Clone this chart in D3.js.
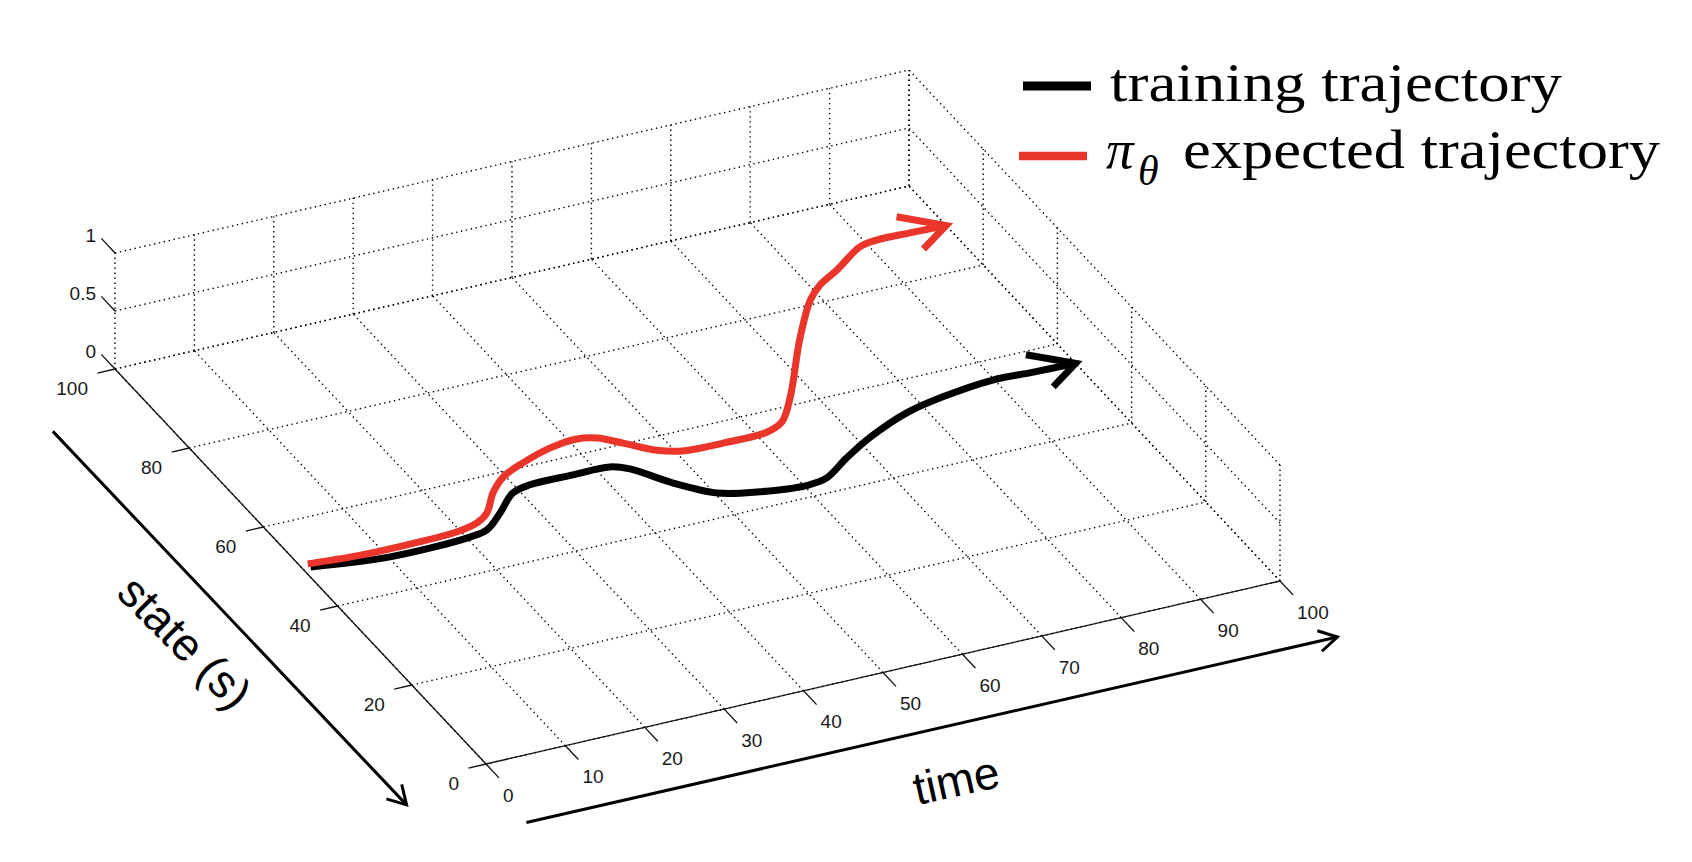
<!DOCTYPE html>
<html>
<head>
<meta charset="utf-8">
<script src="https://cdn.jsdelivr.net/npm/d3@7"></script>
<style>
  html, body { margin: 0; padding: 0; background: #fff; }
  svg { display: block; }
</style>
</head>
<body>
<div id="chart"></div>
<script>
// axis ticks
const timeTicks = [0, 10, 20, 30, 40, 50, 60, 70, 80, 90, 100];
const stateTicks = [0, 20, 40, 60, 80, 100];
const zTicks = [0, 0.5, 1];

// trajectories (time, state)
const trainingTime  = [1, 10.2, 20.4, 22.9, 25.9, 29.1, 31.7, 37.1, 41.7, 43.6, 46.7, 50.3, 54.5, 60.5, 63.1, 67.1, 71.6, 77.7, 83, 89.8, 94.8, 100];
const trainingState = [49.4, 47.7, 48, 48.7, 51.6, 55.1, 56, 56, 55.9, 54.5, 49.5, 45.3, 43.6, 42.6, 43.2, 46.4, 49.6, 52.9, 54.5, 55.6, 55.3, 55.1];

const expectedTime  = [1, 7, 13, 19.6, 22.5, 24.5, 27.1, 29.7, 33.1, 37.4, 41, 43.2, 45.4, 48.2, 50.8, 55.8, 61.4, 63.9, 67.2, 73.7, 78.7, 81.2, 84.4, 89, 91.4, 95.5, 100];
const expectedState = [50.2, 49.5, 49.4, 49.7, 50.6, 52.2, 56.1, 58.9, 60.9, 62.7, 63.3, 62.5, 60.2, 57.1, 55.7, 55.4, 55.6, 57, 61.8, 73.2, 81, 83.7, 86, 89.7, 90.3, 90.2, 90];

const seriesNames = ["training trajectory", "expected trajectory"];
const seriesColors = ["#000000", "#e9352a"];

const width = 1692, height = 862;

// oblique view of the time/state floor, z goes straight up
const origin = [486, 764];
const timeSpan = [794, -183];
const stateSpan = [-371, -395];
const tScale = d3.scaleLinear().domain([0, 100]).range([0, 1]);
const sScale = d3.scaleLinear().domain([0, 100]).range([0, 1]);
const zScale = d3.scaleLinear().domain([0, 1]).range([0, 116]);

function project(t, s, z = 0) {
    const u = tScale(t), v = sScale(s);
    return [
        origin[0] + u * timeSpan[0] + v * stateSpan[0],
        origin[1] + u * timeSpan[1] + v * stateSpan[1] - zScale(z)
    ];
}
const unit = (v) => { const l = Math.hypot(v[0], v[1]); return [v[0] / l, v[1] / l]; };
const tDir = unit(timeSpan), sDir = unit(stateSpan);

const svg = d3.select("#chart").append("svg")
    .attr("width", width).attr("height", height)
    .attr("viewBox", [0, 0, width, height]);

svg.append("rect").attr("width", width).attr("height", height).attr("fill", "#fff");

// grid: floor, back wall (state = 100), side wall (time = 100)
const gridSegs = [];
timeTicks.forEach((t) => gridSegs.push([[t, 0, 0], [t, 100, 0]]));
stateTicks.forEach((s) => gridSegs.push([[0, s, 0], [100, s, 0]]));
timeTicks.forEach((t) => gridSegs.push([[t, 100, 0], [t, 100, 1]]));
zTicks.forEach((z) => gridSegs.push([[0, 100, z], [100, 100, z]]));
stateTicks.forEach((s) => gridSegs.push([[100, s, 0], [100, s, 1]]));
zTicks.forEach((z) => gridSegs.push([[100, 0, z], [100, 100, z]]));

svg.append("g")
    .selectAll("line")
    .data(gridSegs)
    .join("line")
    .attr("x1", (d) => project(...d[0])[0])
    .attr("y1", (d) => project(...d[0])[1])
    .attr("x2", (d) => project(...d[1])[0])
    .attr("y2", (d) => project(...d[1])[1])
    .attr("stroke", "#000")
    .attr("stroke-width", 1.4)
    .attr("stroke-dasharray", "1.4,3.6");

// solid axis lines
const axes = svg.append("g").attr("stroke", "#111").attr("stroke-width", 1.3);
[[project(0, 0), project(0, 100)], [project(0, 0), project(100, 0)]].forEach(([a, b]) => {
    axes.append("line").attr("x1", a[0]).attr("y1", a[1]).attr("x2", b[0]).attr("y2", b[1]);
});

const tickFont = { family: "'Liberation Sans', Arial, sans-serif", size: 19 };

// state ticks
stateTicks.forEach((s) => {
    const p = project(0, s);
    axes.append("line")
        .attr("x1", p[0]).attr("y1", p[1])
        .attr("x2", p[0] - tDir[0] * 18).attr("y2", p[1] - tDir[1] * 18);
    svg.append("text")
        .attr("x", p[0] - 27).attr("y", p[1] + 19).attr("dy", "0.35em")
        .attr("text-anchor", "end")
        .attr("font-family", tickFont.family).attr("font-size", tickFont.size)
        .attr("fill", "#1a1a1a")
        .text(s);
});

// time ticks
timeTicks.forEach((t) => {
    const p = project(t, 0);
    axes.append("line")
        .attr("x1", p[0]).attr("y1", p[1])
        .attr("x2", p[0] - sDir[0] * 19).attr("y2", p[1] - sDir[1] * 19);
    svg.append("text")
        .attr("x", p[0] + 17).attr("y", p[1] + 31).attr("dy", "0.35em")
        .attr("text-anchor", "start")
        .attr("font-family", tickFont.family).attr("font-size", tickFont.size)
        .attr("fill", "#1a1a1a")
        .text(t);
});

// z ticks
zTicks.forEach((z) => {
    const p = project(0, 100, z);
    axes.append("line")
        .attr("x1", p[0]).attr("y1", p[1])
        .attr("x2", p[0] + sDir[0] * 20).attr("y2", p[1] + sDir[1] * 20);
    svg.append("text")
        .attr("x", p[0] - 19).attr("y", p[1] - 18).attr("dy", "0.35em")
        .attr("text-anchor", "end")
        .attr("font-family", tickFont.family).attr("font-size", tickFont.size)
        .attr("fill", "#1a1a1a")
        .text(z);
});

// trajectories
const line = d3.line().curve(d3.curveCatmullRom.alpha(0.5));
const series = [
    { time: trainingTime, state: trainingState, color: seriesColors[0] },
    { time: expectedTime, state: expectedState, color: seriesColors[1] }
];

series.forEach((ser) => {
    const pts = ser.time.map((t, i) => project(t, ser.state[i]));
    svg.append("path")
        .attr("d", line(pts))
        .attr("fill", "none")
        .attr("stroke", ser.color)
        .attr("stroke-width", 7)
        .attr("stroke-linejoin", "round");

    // open arrow head lying on the floor
    const n = ser.time.length;
    const tip = [ser.time[n - 1], ser.state[n - 1]];
    const back = unit([ser.time[n - 2] - tip[0], ser.state[n - 2] - tip[1]]);
    const ang = 42 * Math.PI / 180, len = 6;
    const arm = (sgn) => [
        tip[0] + len * (back[0] * Math.cos(ang) - sgn * back[1] * Math.sin(ang)),
        tip[1] + len * (sgn * back[0] * Math.sin(ang) + back[1] * Math.cos(ang))
    ];
    const head = [arm(1), tip, arm(-1)].map((d) => project(d[0], d[1]));
    svg.append("path")
        .attr("d", d3.line()(head))
        .attr("fill", "none")
        .attr("stroke", ser.color)
        .attr("stroke-width", 7)
        .attr("stroke-linejoin", "miter");
});

// annotation arrows for the axis names
function arrow(a, b) {
    const g = svg.append("g").attr("stroke", "#000").attr("stroke-width", 3).attr("fill", "none");
    g.append("line").attr("x1", a[0]).attr("y1", a[1]).attr("x2", b[0]).attr("y2", b[1]);
    const d = unit([a[0] - b[0], a[1] - b[1]]);
    const ang = 30 * Math.PI / 180, len = 21;
    const rot = (sgn) => [
        b[0] + len * (d[0] * Math.cos(ang) - sgn * d[1] * Math.sin(ang)),
        b[1] + len * (sgn * d[0] * Math.sin(ang) + d[1] * Math.cos(ang))
    ];
    g.append("path").attr("d", d3.line()([rot(1), b, rot(-1)]));
}
arrow(project(-12.5, 90), project(-12.2, -4.7));
arrow(project(-1.5, -14.1), project(100.5, -14.4));

const labelFont = "'Liberation Sans', Arial, sans-serif";
const sLab = project(-19.3, 39.8);
svg.append("text")
    .attr("transform", `translate(${sLab[0]},${sLab[1]}) rotate(45)`)
    .attr("text-anchor", "middle").attr("dy", "0.35em")
    .attr("font-family", labelFont).attr("font-size", 46)
    .text("state (s)");

const tLab = project(47.1, -25.9);
svg.append("text")
    .attr("transform", `translate(${tLab[0]},${tLab[1]}) rotate(-12.5)`)
    .attr("text-anchor", "middle").attr("dy", "0.35em")
    .attr("font-family", labelFont).attr("font-size", 46)
    .text("time");

// legend
const serif = "'Liberation Serif', 'Times New Roman', serif";
const legend = svg.append("g");
legend.append("line").attr("x1", 1023).attr("x2", 1091).attr("y1", 86).attr("y2", 86)
    .attr("stroke", seriesColors[0]).attr("stroke-width", 9);
legend.append("line").attr("x1", 1019).attr("x2", 1087).attr("y1", 156).attr("y2", 156)
    .attr("stroke", seriesColors[1]).attr("stroke-width", 8.5);

legend.append("text")
    .attr("x", 1110).attr("y", 101)
    .attr("font-family", serif).attr("font-size", 55)
    .attr("textLength", 452).attr("lengthAdjust", "spacingAndGlyphs")
    .text(seriesNames[0]);

legend.append("text")
    .attr("x", 1106).attr("y", 168)
    .attr("font-family", serif).attr("font-size", 55).attr("font-style", "italic")
    .text("π");
legend.append("text")
    .attr("x", 1138).attr("y", 185)
    .attr("font-family", serif).attr("font-size", 42).attr("font-style", "italic")
    .text("θ");
legend.append("text")
    .attr("x", 1183).attr("y", 168)
    .attr("font-family", serif).attr("font-size", 55)
    .attr("textLength", 477).attr("lengthAdjust", "spacingAndGlyphs")
    .text(seriesNames[1]);
</script>
</body>
</html>
